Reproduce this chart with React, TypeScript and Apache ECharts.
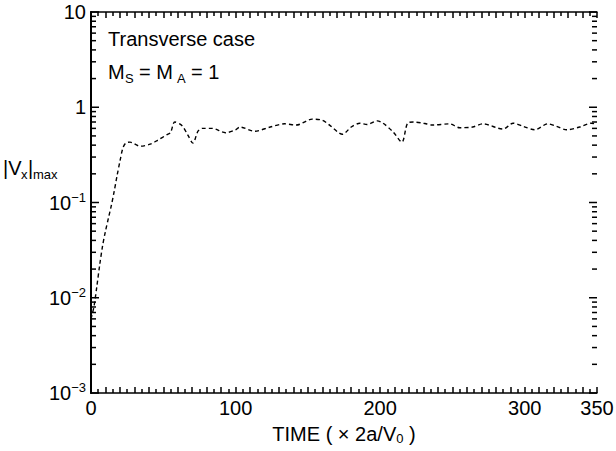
import React, { useEffect, useRef } from "react";
import * as echarts from "echarts";

const timeVals = [0, 2, 4, 6, 8, 10, 12, 14, 16, 18, 20, 22, 24, 27, 34, 41, 46, 53, 55, 58, 63, 67, 70.5, 74, 77, 84, 93, 100, 103, 113, 124, 134, 142, 153, 160, 165, 174, 180, 186, 191, 198, 202, 209, 215, 219, 223, 230, 236, 248, 255, 264, 271, 285, 292, 299, 307, 316, 322, 329, 338, 346, 350];
const vxMax = [0.006, 0.008, 0.013, 0.022, 0.035, 0.05, 0.068, 0.092, 0.13, 0.19, 0.27, 0.37, 0.42, 0.43, 0.39, 0.41, 0.45, 0.52, 0.54, 0.7, 0.64, 0.51, 0.42, 0.56, 0.6, 0.6, 0.54, 0.58, 0.62, 0.56, 0.62, 0.67, 0.65, 0.75, 0.73, 0.65, 0.52, 0.62, 0.68, 0.66, 0.72, 0.68, 0.55, 0.43, 0.68, 0.7, 0.68, 0.65, 0.67, 0.61, 0.62, 0.67, 0.59, 0.68, 0.63, 0.58, 0.67, 0.63, 0.58, 0.62, 0.68, 0.66];

const decades = [0.001, 0.01, 0.1, 1, 10];
const minorMultipliers = [2, 3, 4, 5, 6, 7, 8, 9];
const xLabelValues = [0, 100, 200, 300, 350];

const FONT = "Liberation Sans, Arial, Helvetica, sans-serif";
const FS = 20;
const SUB = 13;

function txt(text: string, left: number, top: number, size: number) {
  return { type: "text", left, top, style: { text, fontFamily: FONT, fontSize: size, fill: "#000" } };
}

export default function App() {
  const ref = useRef<HTMLDivElement>(null);
  useEffect(() => {
    const chart = echarts.init(ref.current!, null, { renderer: "svg" });
    const yTicks: number[][] = [];
    decades.forEach((d, i) => {
      yTicks.push([10, d, 1]);
      if (i < decades.length - 1) minorMultipliers.forEach((m) => yTicks.push([10, d * m, 0]));
    });
    const lineData = timeVals.map((t, i) => [t, vxMax[i]]);
    const xAxisCommon = {
      type: "value",
      min: 0,
      max: 350,
      interval: 10,
      splitLine: { show: false },
      axisLine: { show: true, lineStyle: { color: "#000", width: 1.5 } },
      axisTick: { show: true, inside: true, length: 6, lineStyle: { color: "#000", width: 1.5 } },
      minorTick: { show: true, splitNumber: 2, length: 4, lineStyle: { color: "#000", width: 1.5 } },
    };
    const yAxisCommon = {
      type: "log",
      logBase: 10,
      min: 0.001,
      max: 10,
      splitLine: { show: false },
      axisTick: { show: false },
      minorTick: { show: false },
    };
    chart.setOption({
      animation: false,
      grid: { left: 91, right: 19, top: 12, bottom: 58, containLabel: false, outerBoundsMode: "none" },
      xAxis: [
        {
          ...xAxisCommon,
          position: "bottom",
          name: "TIME ( × 2a/V{sub|0} )",
          nameLocation: "middle",
          nameGap: 30,
          nameTextStyle: {
            fontFamily: FONT,
            fontSize: FS,
            color: "#000",
            rich: { sub: { fontSize: SUB, verticalAlign: "bottom", fontFamily: FONT, color: "#000", lineHeight: 22 } },
          },
          axisLabel: {
            fontFamily: FONT,
            fontSize: FS,
            color: "#000",
            margin: 5,
            formatter: (v: number) => (xLabelValues.includes(v) ? String(v) : ""),
          },
        },
        { ...xAxisCommon, position: "top", axisLabel: { show: false } },
      ],
      yAxis: [
        {
          ...yAxisCommon,
          position: "left",
          axisLine: { show: true, lineStyle: { color: "#000", width: 2 } },
          axisLabel: {
            margin: 5,
            color: "#000",
            fontFamily: FONT,
            fontSize: FS,
            formatter: (v: number) => {
              const e = Math.round(Math.log10(v));
              if (e === 1) return "{b|10}";
              if (e === 0) return "{b|1}";
              return "{b|10}{s|−" + String(-e) + "}";
            },
            rich: {
              b: { fontSize: FS, fontFamily: FONT, color: "#000", lineHeight: 24 },
              s: { fontSize: SUB, fontFamily: FONT, color: "#000", lineHeight: 14, verticalAlign: "top" },
            },
          },
        },
        {
          ...yAxisCommon,
          position: "right",
          axisLine: { show: true, lineStyle: { color: "#000", width: 1.5 } },
          axisLabel: { show: false },
        },
      ],
      series: [
        {
          type: "line",
          data: lineData,
          showSymbol: false,
          smooth: 0.3,
          lineStyle: { color: "#000", width: 1.4, type: [4, 3] },
          z: 3,
        },
        {
          type: "custom",
          data: yTicks,
          clip: false,
          z: 4,
          renderItem: (_p: any, api: any) => {
            const v = api.value(1);
            const major = api.value(2);
            const pL = api.coord([0, v]);
            const pR = api.coord([350, v]);
            const len = major ? 8 : 5;
            return {
              type: "group",
              children: [
                { type: "rect", shape: { x: pL[0], y: pL[1] - 0.75, width: len, height: 1.5 }, style: { fill: "#000" } },
                { type: "rect", shape: { x: pR[0] - len, y: pR[1] - 0.75, width: len, height: 1.5 }, style: { fill: "#000" } },
              ],
            };
          },
        },
      ],
      graphic: [
        txt("Transverse case", 108, 29, FS),
        txt("M", 108, 62, FS),
        txt("S", 125, 72, SUB),
        txt("= M", 139, 62, FS),
        txt("A", 177, 72, SUB),
        txt("= 1", 191, 62, FS),
        txt("|V", 3, 158, FS),
        txt("x", 21, 168, SUB),
        txt("|", 28, 158, FS),
        txt("max", 33, 168, SUB),
      ],
    });
    return () => chart.dispose();
  }, []);
  return <div ref={ref} style={{ width: 616, height: 451, position: "absolute", left: 0, top: 0 }} />;
}
